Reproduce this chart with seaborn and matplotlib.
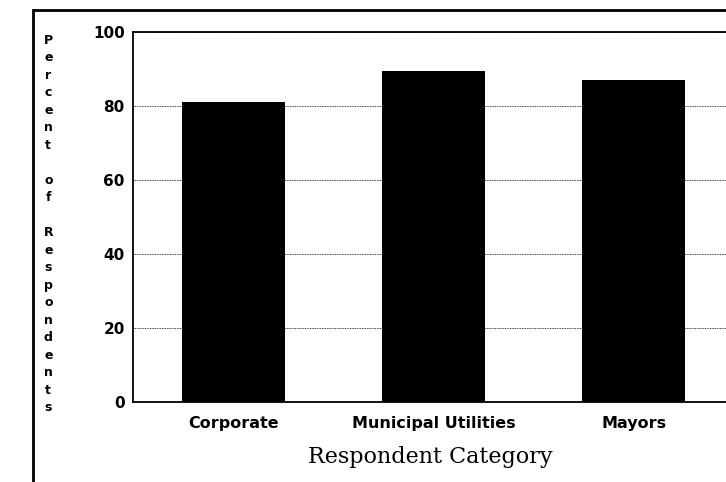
import seaborn as sns
import matplotlib.pyplot as plt
import matplotlib.patches as patches
import pandas as pd

# Data
categories = ["Corporate", "Municipal Utilities", "Mayors"]
percent = [81, 89.5, 87]
y_ticks = [0, 20, 40, 60, 80, 100]

df = pd.DataFrame({"category": categories, "percent": percent})

sns.set_theme(style="white")
plt.rcParams["font.family"] = ["DejaVu Sans"]

fig = plt.figure(figsize=(7.26, 4.82), dpi=100)
ax = fig.add_axes([133 / 726, 1 - 402 / 482, 601 / 726, 370 / 482])

sns.barplot(data=df, x="category", y="percent", color="black",
            saturation=1, width=0.515, edgecolor="none", ax=ax)

ax.set_ylim(0, 100)
ax.set_xlim(-0.5, 2.5)
ax.set_yticks(y_ticks)
ax.yaxis.grid(True, linestyle=(0, (1, 1)), color="black", linewidth=0.6)
ax.set_axisbelow(True)
for side in ["left", "bottom", "top"]:
    ax.spines[side].set_color("black")
    ax.spines[side].set_linewidth(1.3)
ax.spines["right"].set_visible(False)
ax.tick_params(axis="y", direction="out", length=3, width=1, color="black",
               labelsize=11, pad=3)
ax.tick_params(axis="x", length=0, labelsize=11.5, pad=10)
for lbl in ax.get_yticklabels() + ax.get_xticklabels():
    lbl.set_fontweight("bold")
    lbl.set_color("black")

# Stacked vertical y label
ylab = "Percent of Respondents"
stacked = "\n".join(ylab)
ax.set_ylabel(stacked, rotation=0, fontsize=9, fontweight="bold",
              linespacing=1.45, va="center", ha="center", color="black")
ax.yaxis.set_label_coords(-0.141, 0.481)

ax.set_xlabel("Respondent Category", fontsize=16, family="DejaVu Serif",
              color="black")
ax.xaxis.set_label_coords(0.494, -0.12)

# Outer frame of the scanned page
frame = patches.Rectangle((33 / 726, -0.1), 1.2, 1 - 10 / 482 + 0.1,
                          transform=fig.transFigure, fill=False,
                          edgecolor="black", linewidth=2, clip_on=False)
fig.patches.append(frame)

fig.savefig("out.png", dpi=100)
